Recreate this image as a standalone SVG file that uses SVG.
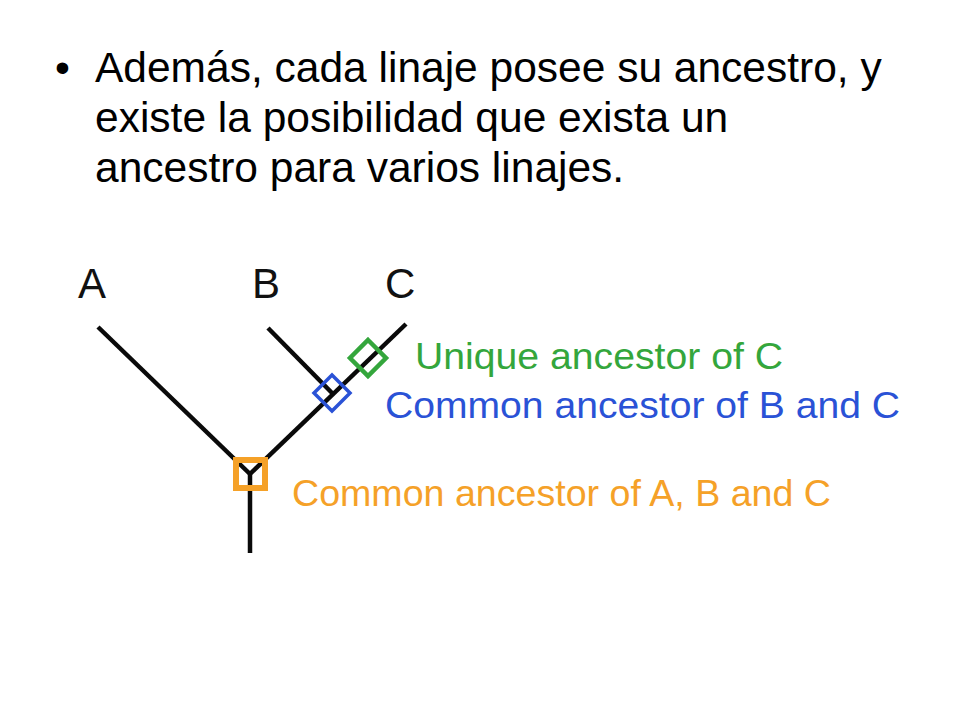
<svg xmlns="http://www.w3.org/2000/svg" width="960" height="720" viewBox="0 0 960 720">
<style>
  .body { font-family: "Liberation Sans", Arial, sans-serif; font-size: 42.5px; fill: #000; }
  .lbl { font-family: "Liberation Sans", Arial, sans-serif; font-size: 42px; fill: #111; }
  .note { font-family: "Liberation Sans", Arial, sans-serif; font-size: 37px; }
  .branch { stroke: #0a0a0a; stroke-width: 4.5; stroke-linecap: butt; fill: none; }
</style>
<rect width="960" height="720" fill="#ffffff"/>
<g id="heading">
  <text class="body" x="55" y="82">•</text>
  <text class="body" x="95" y="82">Además, cada linaje posee su ancestro, y</text>
  <text class="body" x="95" y="132">existe la posibilidad que exista un</text>
  <text class="body" x="95" y="182">ancestro para varios linajes.</text>
</g>
<g id="connectors">
  <line class="branch" x1="98" y1="327" x2="250" y2="474"/>
  <line class="branch" x1="250" y1="474" x2="406" y2="324"/>
  <line class="branch" x1="268" y1="328" x2="334" y2="395"/>
  <line class="branch" x1="250" y1="472" x2="250" y2="553"/>
</g>
<g id="taxon-A"><text class="lbl" x="78" y="298">A</text></g>
<g id="taxon-B"><text class="lbl" x="252" y="298">B</text></g>
<g id="taxon-C"><text class="lbl" x="385" y="298">C</text></g>
<g id="ancestor-ABC">
  <rect x="236" y="460" width="29" height="28" fill="none" stroke="#f5a128" stroke-width="6"/>
  <text class="note" x="292" y="506" fill="#f5a128" textLength="539" lengthAdjust="spacingAndGlyphs">Common ancestor of A, B and C</text>
</g>
<g id="ancestor-BC">
  <polygon points="332,375 350,393 332,411 314,393" fill="none" stroke="#2a52d6" stroke-width="3.5"/>
  <text class="note" x="385" y="418" fill="#2a52d6" textLength="515" lengthAdjust="spacingAndGlyphs">Common ancestor of B and C</text>
</g>
<g id="ancestor-C">
  <polygon points="368,340 386,358 368,376 350,358" fill="none" stroke="#34a63c" stroke-width="4.5"/>
  <text class="note" x="415" y="369" fill="#34a63c" textLength="368" lengthAdjust="spacingAndGlyphs">Unique ancestor of C</text>
</g>
</svg>
